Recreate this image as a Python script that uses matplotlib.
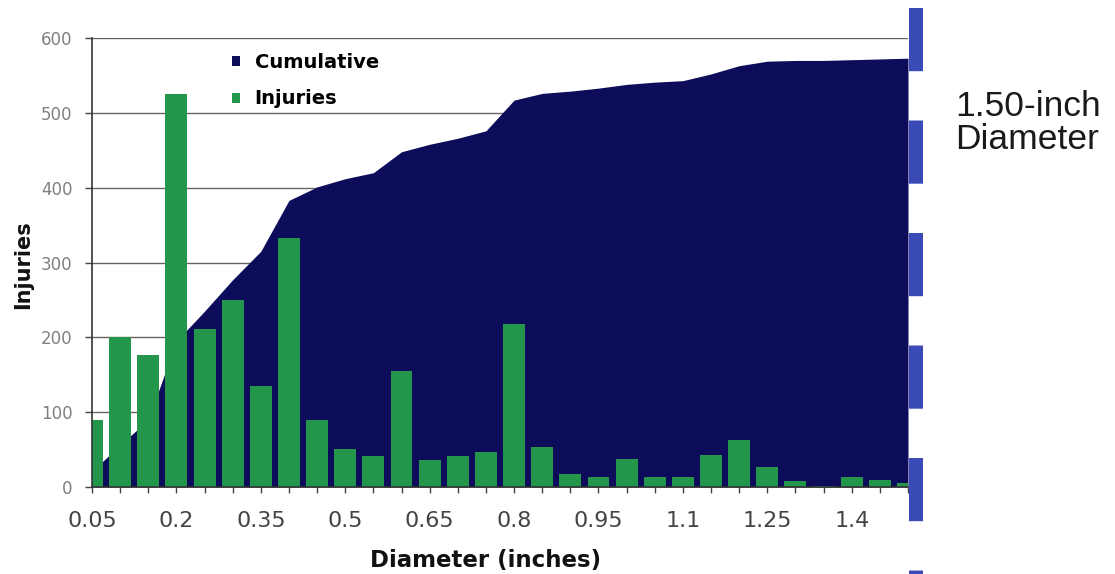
import matplotlib
matplotlib.use("Agg")
import matplotlib.pyplot as plt
from matplotlib.lines import Line2D
from matplotlib.patches import Patch
import numpy as np

# Diameter bins (inches) and counts per bin
diameters = ["0.05", "0.1", "0.15", "0.2", "0.25", "0.3", "0.35", "0.4", "0.45", "0.5",
             "0.55", "0.6", "0.65", "0.7", "0.75", "0.8", "0.85", "0.9", "0.95", "1",
             "1.05", "1.1", "1.15", "1.2", "1.25", "1.3", "1.35", "1.4", "1.45", "1.5"]
injuries = [90, 200, 176, 525, 211, 250, 135, 333, 90, 51,
            41, 155, 36, 41, 47, 218, 53, 17, 13, 37,
            13, 13, 43, 63, 27, 8, 2, 13, 10, 5]
cumulative = [21, 56, 90, 195, 235, 277, 315, 383, 401, 412,
              420, 448, 458, 466, 476, 517, 526, 529, 533, 538,
              541, 543, 552, 563, 569, 570, 570, 571, 572, 573]
shown_ticks = ["0.05", "0.2", "0.35", "0.5", "0.65", "0.8", "0.95", "1.1", "1.25", "1.4"]
y_ticks = [0, 100, 200, 300, 400, 500, 600]

NAVY = "#0c0c5a"
GREEN = "#23964b"
MARK_BLUE = "#3a4bb8"

plt.rcParams["lines.scale_dashes"] = False

W, H = 1115, 574
fig = plt.figure(figsize=(W / 100, H / 100), dpi=100)
fig.patch.set_facecolor("white")

left, right, top, bottom = 92, 908, 38, 487
ax = fig.add_axes([left / W, (H - bottom) / H, (right - left) / W, (bottom - top) / H])

x = np.arange(len(diameters))
ax.fill_between(x, cumulative, 0, color=NAVY, linewidth=0, zorder=1)
ax.bar(x, injuries, width=0.78, color=GREEN, linewidth=0, zorder=2)

ax.set_xlim(0, len(diameters) - 1)
ax.set_ylim(0, 600)

ax.set_axisbelow(True)
ax.yaxis.grid(True, color="#6b6262", linewidth=1.0)
ax.xaxis.grid(False)

ax.set_xticks(x)
ax.set_xticklabels([d if d in shown_ticks else "" for d in diameters])
ax.set_yticks(y_ticks)
ax.set_yticklabels([str(v) for v in y_ticks])

ax.tick_params(axis="x", direction="out", length=4, width=1, color="#444444",
               labelsize=16, labelcolor="#444444", pad=13)
ax.tick_params(axis="y", direction="out", length=5, width=1, color="#444444",
               labelsize=12, labelcolor="#808080", pad=9)

for s in ("top", "right"):
    ax.spines[s].set_visible(False)
for s in ("left", "bottom"):
    ax.spines[s].set_color("#333333")
    ax.spines[s].set_linewidth(1.2)
ax.spines["bottom"].set_zorder(3)

ax.set_ylabel("Injuries", fontsize=15, fontweight="bold", color="#111111")
ax.yaxis.set_label_coords((33 - left) / (right - left), 0.495)
fig.text(486 / W, 1 - 567 / H, "Diameter (inches)", fontsize=16.5, fontweight="bold",
         color="#111111", ha="center", va="baseline")

handles = [Patch(facecolor=NAVY, edgecolor="none", label="Cumulative"),
           Patch(facecolor=GREEN, edgecolor="none", label="Injuries")]
ax.legend(handles=handles, loc="upper left",
          bbox_to_anchor=((232 - left) / (right - left), (bottom - 53) / (bottom - top)),
          frameon=False, borderpad=0, borderaxespad=0, handlelength=0.42, handleheight=0.42,
          handletextpad=0.75, labelspacing=0.9,
          prop={"size": 14, "weight": "bold"})

# Dashed marker line at the 1.50-inch bin
fig.add_artist(Line2D([916 / W, 916 / W], [1 - 8 / H, -0.05], transform=fig.transFigure,
                      color=MARK_BLUE, linewidth=14 * 0.72, dashes=(45.5, 35.5),
                      solid_capstyle="butt", dash_capstyle="butt"))

label_font = {"family": ["Liberation Sans", "DejaVu Sans"], "size": 25.5, "color": "#1a1a1a"}
fig.text(955 / W, 1 - 116 / H, "1.50-inch", va="baseline", **label_font)
fig.text(955 / W, 1 - 149 / H, "Diameter", va="baseline", **label_font)

fig.savefig("out.png", dpi=100, facecolor="white")
